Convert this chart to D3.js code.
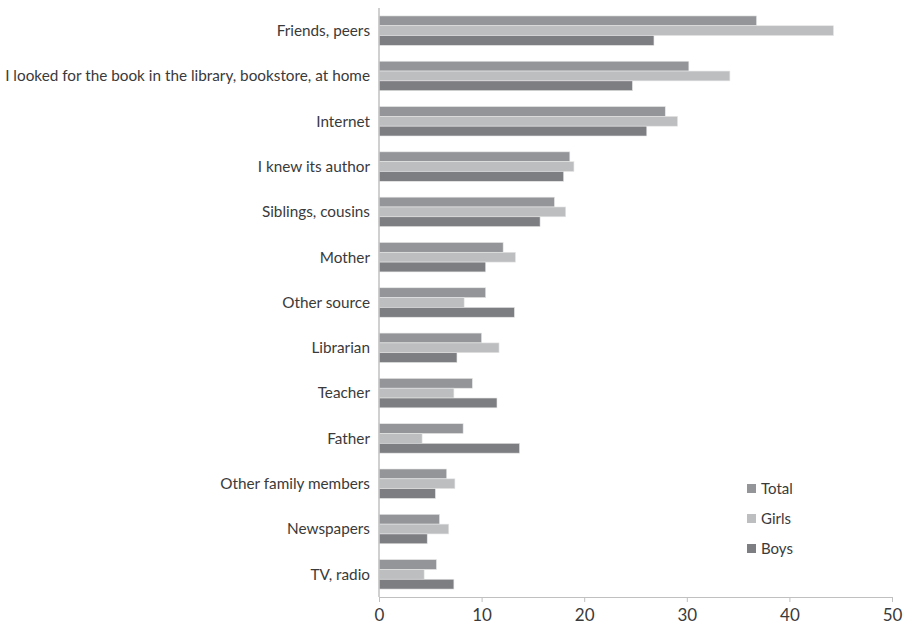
<!DOCTYPE html>
<html>
<head>
<meta charset="utf-8">
<script src="https://cdn.jsdelivr.net/npm/d3@7"></script>
<style>
  body { margin: 0; background: #fff; }
  text { font-family: Lato, "Open Sans", sans-serif; fill: #3a3a3a; }
</style>
</head>
<body>
<div id="chart"></div>
<script>
// Where did you hear about the book (%)
const categories = [
    "Friends, peers",
    "I looked for the book in the library, bookstore, at home",
    "Internet",
    "I knew its author",
    "Siblings, cousins",
    "Mother",
    "Other source",
    "Librarian",
    "Teacher",
    "Father",
    "Other family members",
    "Newspapers",
    "TV, radio"
];
const seriesNames = ["Total", "Girls", "Boys"];
const total = [36.8, 30.2, 27.9, 18.6, 17.1, 12.1, 10.4, 10.0, 9.1, 8.2, 6.6, 5.9, 5.6];
const girls = [44.3, 34.2, 29.1, 19.0, 18.2, 13.3, 8.3, 11.7, 7.3, 4.2, 7.4, 6.8, 4.4];
const boys = [26.8, 24.7, 26.1, 18.0, 15.7, 10.4, 13.2, 7.6, 11.5, 13.7, 5.5, 4.7, 7.3];
const xTicks = [0, 10, 20, 30, 40, 50];

const colors = d3.scaleOrdinal().domain(seriesNames).range(["#939598", "#bcbec0", "#7d7e82"]);

const w = 907, h = 628;
const svg = d3.select("#chart").append("svg")
    .attr("width", w)
    .attr("height", h);

// scales
const xScale = d3.scaleLinear().domain([0, 50]).range([379, 892]);
const yScale = d3.scaleBand().domain(categories).range([8, 597])
    .paddingInner(0.35).paddingOuter(0.175);
const sub = d3.scaleBand().domain(seriesNames).range([0, yScale.bandwidth()]);

// bars
const rows = categories.map((c, i) => ({ c, vals: [total[i], girls[i], boys[i]] }));
const groups = svg.selectAll(".grp").data(rows).enter().append("g")
    .attr("class", "grp")
    .attr("transform", d => `translate(0, ${yScale(d.c)})`);

groups.selectAll("rect")
    .data(d => d.vals.map((v, k) => ({ name: seriesNames[k], v })))
    .enter().append("rect")
    .attr("x", xScale(0))
    .attr("y", d => sub(d.name))
    .attr("width", d => xScale(d.v) - xScale(0))
    .attr("height", sub.bandwidth())
    .attr("fill", d => colors(d.name))
    .attr("stroke", "#e6e6e6")
    .attr("stroke-width", 0.6);

// category labels
svg.selectAll(".cat").data(categories).enter().append("text")
    .attr("class", "cat")
    .attr("x", 370)
    .attr("y", d => yScale(d) + yScale.bandwidth() / 2)
    .attr("dy", "0.35em")
    .attr("text-anchor", "end")
    .style("font-size", "15.3px")
    .text(d => d);

// y axis line
svg.append("line")
    .attr("x1", xScale(0)).attr("x2", xScale(0))
    .attr("y1", 8).attr("y2", 597)
    .attr("stroke", "#c0c0c0").attr("stroke-width", 1.5);

// x axis
const xAxis = svg.append("g")
    .attr("transform", "translate(0, 597)")
    .call(d3.axisBottom(xScale).tickValues(xTicks).tickSize(5).tickSizeOuter(0).tickPadding(7));
xAxis.select(".domain").attr("stroke", "#c0c0c0").attr("stroke-width", 1.2);
xAxis.selectAll(".tick line").attr("stroke", "#c0c0c0");
xAxis.selectAll(".tick text").style("font-size", "17px").attr("fill", "#3a3a3a")
    .style("font-family", "Lato, 'Open Sans', sans-serif");

// legend
const legend = svg.selectAll(".legend").data(seriesNames).enter().append("g")
    .attr("class", "legend")
    .attr("transform", (d, i) => `translate(747, ${489 + i * 30})`);
legend.append("rect")
    .attr("x", 0).attr("y", -5)
    .attr("width", 9).attr("height", 9)
    .attr("fill", d => colors(d));
legend.append("text")
    .attr("x", 14)
    .attr("y", 0)
    .attr("dy", "0.35em")
    .style("font-size", "15px")
    .text(d => d);
</script>
</body>
</html>
